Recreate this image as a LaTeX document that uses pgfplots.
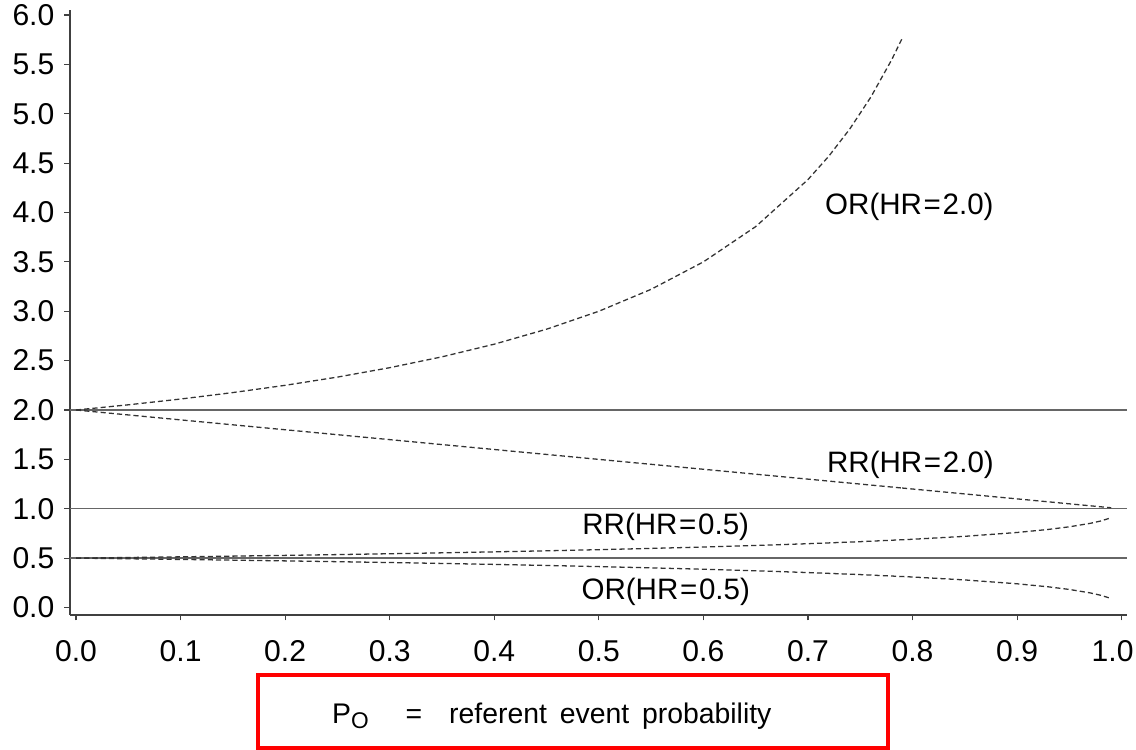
\documentclass[border=0pt]{standalone}
\usepackage{fontspec}
\setmainfont{Liberation Sans}
\usepackage{pgfplots}
\pgfplotsset{compat=1.18}

\pgfplotstableread{
p     orhi     rrhi
0.00  2.0000   2.00
0.05  2.0526   1.95
0.10  2.1111   1.90
0.15  2.1765   1.85
0.20  2.2500   1.80
0.25  2.3333   1.75
0.30  2.4286   1.70
0.35  2.5385   1.65
0.40  2.6667   1.60
0.45  2.8182   1.55
0.50  3.0000   1.50
0.55  3.2222   1.45
0.60  3.5000   1.40
0.65  3.8571   1.35
0.70  4.3333   1.30
0.72  4.5714   1.28
0.74  4.8462   1.26
0.76  5.1667   1.24
0.78  5.5455   1.22
0.79  5.7619   1.21
}\hrdata

\pgfplotstableread{
p     rrlo     orlo
0.00  0.50000  0.50000
0.05  0.50641  0.49359
0.10  0.51317  0.48683
0.15  0.52030  0.47970
0.20  0.52786  0.47214
0.25  0.53590  0.46410
0.30  0.54447  0.45553
0.35  0.55364  0.44636
0.40  0.56351  0.43649
0.45  0.57418  0.42582
0.50  0.58579  0.41421
0.55  0.59851  0.40149
0.60  0.61257  0.38743
0.65  0.62830  0.37170
0.70  0.64611  0.35389
0.75  0.66667  0.33333
0.80  0.69098  0.30902
0.85  0.72082  0.27918
0.90  0.75975  0.24025
0.93  0.79078  0.20922
0.95  0.81725  0.18275
0.97  0.85236  0.14764
0.98  0.87610  0.12390
0.99  0.90909  0.09091
}\lodata

\pgfplotstableread{
p     rrtwo
0.79  1.21
0.80  1.20
0.85  1.15
0.90  1.10
0.95  1.05
0.99  1.01
}\hrtail

\begin{document}
\begin{tikzpicture}
\begin{axis}[
  scale only axis,
  width=372.1pt, height=213.0pt,
  xmin=-0.0057, xmax=1.0048,
  ymin=-0.074, ymax=6.051,
  clip=false,
  axis x line*=bottom, axis y line*=left,
  axis line style={black!75, line width=0.5pt},
  tick align=outside,
  major tick length=2pt,
  tick style={black!75, line width=0.4pt},
  xtick={0,0.1,...,1.0},
  xticklabels={0.0,0.1,0.2,0.3,0.4,0.5,0.6,0.7,0.8,0.9,\hspace*{-6.4pt}1.0},
  ytick={0,0.5,...,6.0},
  tick label style={font=\fontsize{10.6}{12}\selectfont},
  xticklabel style={yshift=-3.5pt},
  /pgf/number format/assume math mode=true,
  yticklabel style={/pgf/number format/.cd, fixed, fixed zerofill, precision=1},
]
% reference lines
\addplot [black!60, line width=0.5pt] coordinates {(-0.0057,2) (1.0048,2)};
\addplot [black!60, line width=0.5pt] coordinates {(-0.0057,1) (1.0048,1)};
\addplot [black!60, line width=0.5pt] coordinates {(-0.0057,0.5) (1.0048,0.5)};

% curves
\addplot [black!80, line width=0.45pt, dash pattern=on 1.8pt off 1.1pt] table [x=p, y=orhi] {\hrdata};
\addplot [black!80, line width=0.45pt, dash pattern=on 1.8pt off 1.1pt] table [x=p, y=rrhi] {\hrdata};
\addplot [black!80, line width=0.45pt, dash pattern=on 1.8pt off 1.1pt] table [x=p, y=rrtwo] {\hrtail};
\addplot [black!80, line width=0.45pt, dash pattern=on 1.8pt off 1.1pt] table [x=p, y=rrlo] {\lodata};
\addplot [black!80, line width=0.45pt, dash pattern=on 1.8pt off 1.1pt] table [x=p, y=orlo] {\lodata};

\node [font=\fontsize{10.4}{12}\selectfont] at (axis cs:0.797,4.055) {OR(HR\kern0.6pt=\kern0.6pt2.0)};
\node [font=\fontsize{10.4}{12}\selectfont] at (axis cs:0.798,1.445) {RR(HR\kern0.6pt=\kern0.6pt2.0)};
\node [font=\fontsize{10.4}{12}\selectfont] at (axis cs:0.564,0.819) {RR(HR\kern0.6pt=\kern0.6pt0.5)};
\node [font=\fontsize{10.4}{12}\selectfont] at (axis cs:0.564,0.159) {OR(HR\kern0.6pt=\kern0.6pt0.5)};

% caption box
\draw [red, line width=1.4pt] (axis cs:0.174,-0.681) rectangle (axis cs:0.7765,-1.42);
\node [font=\fontsize{10}{12}\selectfont] at (axis cs:0.455,-1.096)
  {P\raisebox{-0.35ex}{\fontsize{8}{9}\selectfont O}\hspace{13pt}=\hspace{9.5pt}referent\hspace{4.5pt}event\hspace{4.5pt}probability};

\coordinate (bbA) at (axis cs:-0.0727,6.152);
\coordinate (bbB) at (axis cs:1.0137,-1.4408);
\end{axis}
\pgfresetboundingbox
\path (bbA) rectangle (bbB);
\end{tikzpicture}
\end{document}
